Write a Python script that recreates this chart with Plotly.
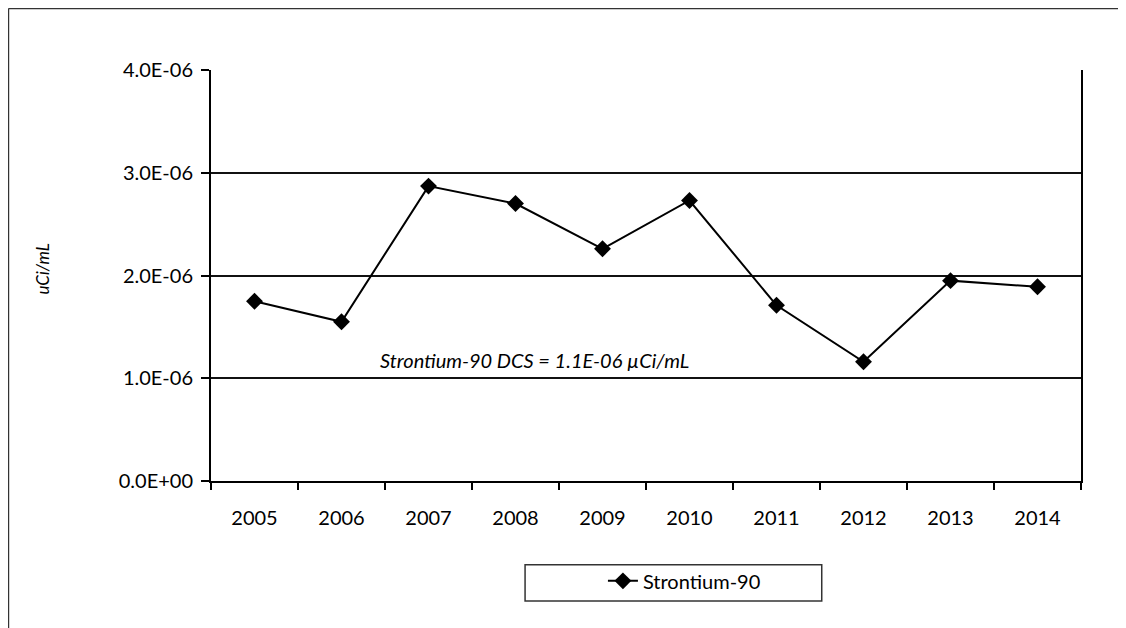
import plotly.graph_objects as go

years = ["2005", "2006", "2007", "2008", "2009", "2010", "2011", "2012", "2013", "2014"]
sr90 = [1.75e-6, 1.55e-6, 2.87e-6, 2.70e-6, 2.26e-6, 2.73e-6, 1.71e-6, 1.16e-6, 1.95e-6, 1.89e-6]
y_ticks = [0, 1e-6, 2e-6, 3e-6, 4e-6]
y_tick_labels = ["0.0E+00", "1.0E-06", "2.0E-06", "3.0E-06", "4.0E-06"]
series_name = "Strontium-90"
dcs_label = "Strontium-90 DCS = 1.1E-06 µCi/mL"
y_title = "uCi/mL"

FONT = "Lato"

fig = go.Figure()
fig.add_trace(go.Scatter(
    x=years, y=sr90, name=series_name, mode="lines+markers",
    line=dict(color="black", width=2),
    marker=dict(symbol="diamond", size=13, color="black"),
))

fig.update_layout(
    width=1126, height=628,
    margin=dict(l=203, r=53, t=62, b=155),
    paper_bgcolor="white", plot_bgcolor="white",
    font=dict(family=FONT, size=20, color="black"),
    showlegend=True,
    legend=dict(x=0.4505, y=-0.243, xanchor="left", yanchor="middle",
                bgcolor="rgba(0,0,0,0)", borderwidth=0,
                font=dict(family=FONT, size=20, color="black")),
    xaxis=dict(
        type="category", range=[-0.5, len(years) - 0.5],
        tickson="boundaries", ticks="outside", ticklen=7,
        tickwidth=2, tickcolor="black", showline=True, linecolor="black",
        linewidth=2, showgrid=False, mirror=False,
        tickfont=dict(family=FONT, size=20),
        ticklabelstandoff=18,
    ),
    yaxis=dict(
        range=[0, 4e-6], tickvals=y_ticks, ticktext=y_tick_labels,
        ticks="outside", ticklen=8, tickwidth=2, tickcolor="black",
        showline=True, linecolor="black", linewidth=2, mirror=True,
        showgrid=True, gridcolor="#111", gridwidth=2, zeroline=False,
        tickfont=dict(family=FONT, size=20),
        ticklabelstandoff=4,
    ),
    shapes=[
        # legend box
        dict(type="rect", xref="paper", yref="paper", x0=0.361, x1=0.702,
             y0=-0.292, y1=-0.204, line=dict(color="#333", width=1.5)),
        # outer chart border (left and top)
        dict(type="line", xref="paper", yref="paper", x0=-0.2328, x1=-0.2328,
             y0=1.1496, y1=-0.40, line=dict(color="#333", width=1.5)),
        dict(type="line", xref="paper", yref="paper", x0=-0.2328, x1=1.0437,
             y0=1.1496, y1=1.1496, line=dict(color="#333", width=1.5)),
    ],
    annotations=[
        dict(text=dcs_label, xref="paper", yref="y", x=0.3724, y=1.18e-6,
             showarrow=False, font=dict(family=FONT, size=20, style="italic")),
        dict(text=y_title, xref="paper", yref="paper", x=-0.194, y=0.515,
             xanchor="center", yanchor="middle",
             showarrow=False, textangle=-90,
             font=dict(family=FONT, size=17, style="italic")),
    ],
)

fig.write_html("out.html")
